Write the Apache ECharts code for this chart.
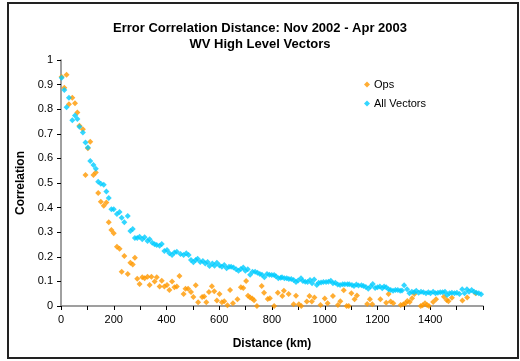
<!DOCTYPE html>
<html><head><meta charset="utf-8">
<script src="https://cdn.jsdelivr.net/npm/echarts@6/dist/echarts.min.js"></script>
<style>html,body{margin:0;padding:0;background:#fff}#c{width:520px;height:361px}</style>
</head><body><div id="c"></div>
<script>
const titleLines = ["Error Correlation Distance: Nov 2002 - Apr 2003", "WV High Level Vectors"];
const seriesNames = ["Ops", "All Vectors"];
const xTickLabels = [0, 200, 400, 600, 800, 1000, 1200, 1400];
const yTickLabels = [0, 0.1, 0.2, 0.3, 0.4, 0.5, 0.6, 0.7, 0.8, 0.9, 1];

const opsKm = [2.5,12.6,21,30,43,53,62,70,83,93,102,111,123,132,141,151,162,172,181,191,200,212,222,230,240,253,263,272,280,289,298,308,317,328,336,343,355,363,374,382,392,402,411,421,430,439,449,465,472,482,493,502,511,520,535,543,551,561,572,581,591,601,610,619,631,641,652,669,682,691,702,709,717,725,732,743,761,770,784,792,808,822,839,845,863,882,891,902,911,932,942,951,961,984,1000,1011,1031,1050,1059,1072,1083,1091,1101,1113,1122,1161,1171,1180,1211,1233,1242,1250,1260,1288,1298,1306,1313,1322,1331,1340,1364,1371,1380,1388,1395,1411,1422,1452,1462,1469,1482,1522,1540,1572];
const opsCorr = [0.932,0.887,0.940,0.820,0.847,0.824,0.787,0.733,0.718,0.533,0.641,0.668,0.533,0.543,0.459,0.424,0.408,0.421,0.340,0.309,0.296,0.241,0.233,0.139,0.203,0.130,0.176,0.169,0.196,0.111,0.089,0.117,0.113,0.119,0.085,0.119,0.100,0.117,0.079,0.103,0.079,0.085,0.065,0.100,0.076,0.079,0.122,0.049,0.070,0.070,0.057,0.037,0.084,0.015,0.037,0.039,0.015,0.057,0.080,0.060,0.022,0.049,0.015,0.019,0.003,0.065,0.011,0.027,0.076,0.073,0.102,0.042,0.035,0.030,0.023,0.000,0.081,0.054,0.028,0.031,0.000,0.054,0.041,0.062,0.049,0.007,0.042,0.007,0.000,0.018,0.041,0.018,0.035,0.004,0.030,0.011,0.041,0.004,0.019,0.064,0.000,0.000,0.052,0.027,0.043,0.008,0.027,0.007,0.027,0.013,0.049,0.018,0.011,0.004,0.007,0.011,0.020,0.016,0.031,0.049,0.000,0.003,0.011,0.004,0.000,0.016,0.027,0.038,0.024,0.019,0.034,0.022,0.035,0.052];

const allKm = [2.5,12.6,21,30,43,53,62,70,83,93,102,111,123,132,141,151,162,172,181,191,200,212,222,230,240,253,263,272,280,289,298,308,317,328,336,346,355,363,374,382,392,402,411,421,430,439,453,465,475,484,493,502,511,518,528,538,547,556,563,574,582,591,601,610,619,628,637,645,654,664,673,682,691,699,708,717,726,736,745,754,762,771,781,790,799,808,815,824,833,838,847,856,864,873,882,891,899,910,917,926,935,944,952,960,970,977,986,995,1005,1014,1023,1031,1040,1049,1058,1068,1076,1086,1093,1103,1111,1120,1128,1139,1147,1156,1165,1174,1182,1191,1200,1209,1218,1225,1233,1242,1250,1259,1268,1277,1286,1293,1301,1312,1321,1330,1339,1347,1356,1365,1374,1384,1393,1401,1411,1420,1429,1438,1447,1456,1464,1473,1482,1492,1501,1511,1521,1530,1539,1547,1557,1566,1575,1584,1593];
const allCorr = [0.928,0.878,0.808,0.847,0.755,0.774,0.760,0.729,0.705,0.665,0.644,0.589,0.573,0.558,0.505,0.497,0.493,0.465,0.439,0.393,0.393,0.374,0.382,0.359,0.340,0.366,0.305,0.313,0.276,0.276,0.282,0.271,0.279,0.264,0.271,0.257,0.251,0.248,0.245,0.252,0.224,0.228,0.214,0.207,0.217,0.221,0.211,0.207,0.214,0.207,0.187,0.178,0.187,0.192,0.179,0.183,0.173,0.179,0.163,0.173,0.164,0.176,0.165,0.160,0.167,0.153,0.160,0.160,0.156,0.149,0.143,0.150,0.156,0.143,0.149,0.127,0.139,0.139,0.135,0.130,0.127,0.117,0.130,0.127,0.126,0.126,0.121,0.113,0.115,0.117,0.113,0.113,0.110,0.110,0.106,0.098,0.104,0.113,0.102,0.099,0.098,0.106,0.092,0.108,0.085,0.095,0.096,0.098,0.098,0.099,0.103,0.092,0.095,0.087,0.085,0.088,0.088,0.088,0.088,0.085,0.081,0.087,0.083,0.084,0.081,0.077,0.070,0.079,0.089,0.073,0.076,0.079,0.072,0.079,0.076,0.068,0.065,0.062,0.065,0.065,0.062,0.063,0.084,0.068,0.052,0.058,0.056,0.062,0.054,0.058,0.056,0.052,0.056,0.052,0.058,0.052,0.054,0.056,0.056,0.058,0.045,0.052,0.054,0.052,0.054,0.049,0.068,0.052,0.068,0.058,0.065,0.058,0.054,0.052,0.048];

const FONT = 'Liberation Sans, Arial, sans-serif';
const chart = echarts.init(document.getElementById('c'), null, {renderer: 'canvas'});
const pairs = (xs, ys) => xs.map((x, i) => [x, ys[i]]);
chart.setOption({
  animation: false,
  backgroundColor: '#fff',
  title: {
    text: titleLines.join('\n'), left: 'center', top: 15, itemGap: 0,
    textStyle: {fontFamily: FONT, fontSize: 13, fontWeight: 'bold', color: '#000', lineHeight: 16}
  },
  legend: {
    orient: 'vertical', left: 359, top: 74, itemWidth: 6, itemHeight: 6, itemGap: 8,
    icon: 'diamond',
    textStyle: {fontFamily: FONT, fontSize: 11, color: '#000', padding: [0, 0, 0, -1]},
    data: seriesNames
  },
  grid: {left: 61, right: 37, top: 60, bottom: 55, containLabel: false},
  xAxis: {
    type: 'value', min: 0, max: 1600, interval: 100,
    name: 'Distance (km)', nameLocation: 'middle', nameGap: 32,
    nameTextStyle: {fontFamily: FONT, fontSize: 12, fontWeight: 'bold', color: '#000'},
    axisLine: {lineStyle: {color: '#808080', width: 1.5}},
    axisTick: {length: 4, lineStyle: {color: '#000'}},
    axisLabel: {fontFamily: FONT, fontSize: 11, color: '#000', margin: 8,
      formatter: v => xTickLabels.includes(v) ? String(v) : ''},
    splitLine: {show: false}
  },
  yAxis: {
    type: 'value', min: 0, max: 1, interval: 0.1,
    name: 'Correlation', nameLocation: 'middle', nameGap: 32, nameRotate: 90,
    nameTextStyle: {fontFamily: FONT, fontSize: 12, fontWeight: 'bold', color: '#000'},
    axisLine: {show: true, lineStyle: {color: '#808080', width: 1.5}},
    axisTick: {show: true, length: 4, lineStyle: {color: '#000'}},
    axisLabel: {fontFamily: FONT, fontSize: 11, color: '#000', margin: 8,
      formatter: v => { const r = Math.round(v * 10) / 10; return yTickLabels.includes(r) ? String(r) : ''; }},
    splitLine: {show: false}
  },
  graphic: [{
    type: 'rect', shape: {x: 8, y: 3, width: 510, height: 355}, silent: true,
    style: {fill: 'none', stroke: '#222', lineWidth: 2}, z: 100
  }],
  series: [
    {name: seriesNames[0], type: 'scatter', symbol: 'diamond', symbolSize: 6,
     itemStyle: {color: '#FF9900'}, data: pairs(opsKm, opsCorr)},
    {name: seriesNames[1], type: 'scatter', symbol: 'diamond', symbolSize: 6,
     itemStyle: {color: '#00CCFF'}, data: pairs(allKm, allCorr)}
  ]
});
</script></body></html>
